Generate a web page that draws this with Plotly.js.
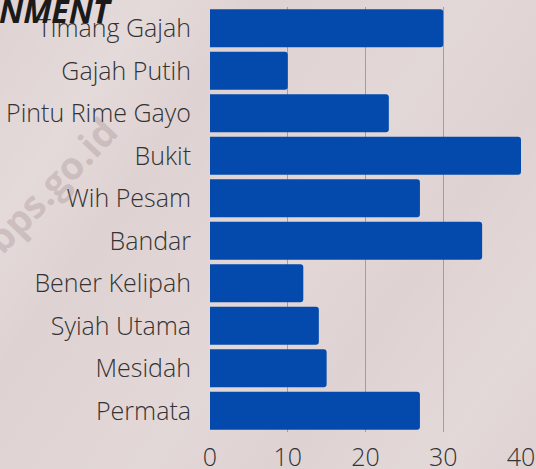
<!DOCTYPE html>
<html>
<head>
<meta charset="utf-8">
<script src="https://cdn.plot.ly/plotly-3.0.1.min.js"></script>
<style>
  html, body { margin: 0; padding: 0; }
  body {
    width: 536px; height: 469px; overflow: hidden;
    background:
      linear-gradient(125deg, rgba(255,255,255,0) 0%, rgba(255,255,255,0.18) 18%, rgba(255,255,255,0) 30%, rgba(255,255,255,0.12) 55%, rgba(255,255,255,0) 70%, rgba(255,255,255,0.15) 88%, rgba(255,255,255,0) 100%),
      #dfd2d2;
  }
  #chart { width: 536px; height: 469px; }
</style>
</head>
<body>
<div id="chart"></div>
<script>
const categories = ["Timang Gajah", "Gajah Putih", "Pintu Rime Gayo", "Bukit", "Wih Pesam", "Bandar", "Bener Kelipah", "Syiah Utama", "Mesidah", "Permata"];
const values = [30, 10, 23, 40, 27, 35, 12, 14, 15, 27];
const xTicks = [0, 10, 20, 30, 40];
const titleText = "NMENT";
const watermarkText = "bps.go.id";

const W = 536, H = 469;
const mL = 210, mR = 15, mT = 7, mB = 37;
const plotW = W - mL - mR, plotH = H - mT - mB;

const trace = {
  type: 'bar',
  orientation: 'h',
  y: categories,
  x: values,
  marker: { color: '#044aad', cornerradius: 3 },
  hoverinfo: 'x+y'
};

const layout = {
  width: W, height: H,
  margin: { l: mL, r: mR, t: mT, b: mB, pad: 0 },
  paper_bgcolor: 'rgba(0,0,0,0)',
  plot_bgcolor: 'rgba(0,0,0,0)',
  bargap: 0.11,
  showlegend: false,
  font: { family: 'Open Sans', color: '#333333' },
  xaxis: {
    range: [0, 40],
    tickvals: xTicks,
    ticktext: xTicks.map(String),
    showgrid: true,
    gridcolor: '#a59d9d',
    gridwidth: 1,
    zeroline: false,
    showline: false,
    ticks: '',
    ticklabelstandoff: 8,
    tickfont: { family: 'Open Sans', size: 25, weight: 300, color: '#333333' },
    fixedrange: true
  },
  yaxis: {
    autorange: 'reversed',
    showgrid: false,
    zeroline: false,
    showline: false,
    ticks: '',
    ticklabelstandoff: 18,
    tickfont: { family: 'Open Sans', size: 25, weight: 300, color: '#333333' },
    fixedrange: true
  },
  annotations: [
    {
      text: watermarkText,
      xref: 'paper', yref: 'paper',
      x: (50 - mL) / plotW, y: (H - mB - 185) / plotH,
      xanchor: 'center', yanchor: 'middle',
      textangle: -46,
      showarrow: false,
      font: { family: 'Open Sans', size: 38, weight: 700, color: 'rgba(150,128,128,0.30)' }
    },
    {
      text: '<b><i>' + titleText + '</i></b>',
      xref: 'paper', yref: 'paper',
      x: (-3 - mL) / plotW, y: (H - mB - 10) / plotH,
      xanchor: 'left', yanchor: 'middle',
      showarrow: false,
      font: { family: 'Open Sans', size: 32, color: '#1a1a1a' }
    }
  ]
};

Plotly.newPlot('chart', [trace], layout, { displayModeBar: false, staticPlot: true });
</script>
</body>
</html>
